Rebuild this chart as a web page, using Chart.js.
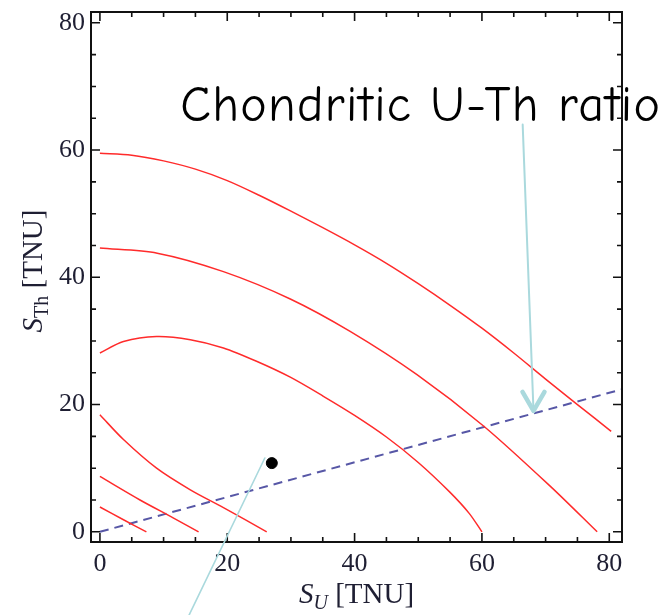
<!DOCTYPE html>
<html>
<head>
<meta charset="utf-8">
<script src="https://cdn.jsdelivr.net/npm/chart.js@4"></script>
<style>
  html, body { margin: 0; padding: 0; background: #fff; }
</style>
</head>
<body>
<canvas id="graph" width="668" height="615"></canvas>
<script>
// tick values (major labelled, minor unlabelled)
const tickValues = [0, 20, 40, 60, 80];
const minorTicks = [0, 5, 10, 15, 20, 25, 30, 35, 40, 45, 50, 55, 60, 65, 70, 75, 80];

// contour curves (S_U, S_Th in TNU)
const c1X = [0, 5, 10, 15, 20, 25, 30, 35, 40, 45, 50, 55, 60, 65, 70, 75, 80.3];
const c1Y = [59.5, 59.2, 58.3, 57.0, 55.2, 52.9, 50.4, 47.8, 45.1, 42.2, 39.0, 35.6, 32.0, 28.1, 24.0, 20.0, 15.8];
const c2X = [0, 9, 19.4, 29.9, 39.3, 49.8, 60.3, 70.8, 78.1];
const c2Y = [44.6, 43.8, 40.9, 36.6, 31.5, 24.7, 16.6, 7.1, 0];
const c3X = [0, 3.7, 8.9, 14.2, 19.4, 24.6, 29.9, 35.1, 40, 45, 50, 55, 58, 60];
const c3Y = [28.1, 29.9, 30.7, 30.2, 28.9, 26.8, 24.3, 21.3, 18.3, 14.9, 10.9, 6.2, 2.9, 0];
const c4X = [0, 3.7, 8.9, 14.2, 19.4, 26.2];
const c4Y = [18.4, 14.5, 10.0, 6.6, 3.8, 0];
const c5X = [0, 6.3, 11.5, 15.5];
const c5Y = [8.7, 5.0, 2.2, 0];
const c6X = [0, 3.7, 7.3];
const c6Y = [3.9, 1.9, 0];

// chondritic U-Th ratio line
const ratioX = [0, 82];
const ratioY = [0, 22.4];

// measured point
const pointX = [27];
const pointY = [10.8];

// annotation anchors (data units)
const labelText = "Chondritic U-Th ratio";
const labelAt = [12.6, 64.5];
const arrow1From = [66.4, 64.0];
const arrow1To = [68.1, 19.0];
const arrow2From = [25.9, 11.6];
const arrow2To = [14.0, -13.1];

const toPts = (xs, ys) => xs.map((v, i) => ({ x: v, y: ys[i] }));

const serif = '"Liberation Serif", "Times New Roman", serif';
const redLine = (xs, ys) => ({
  data: toPts(xs, ys),
  showLine: true,
  borderColor: "#ff2b2b",
  borderWidth: 1.5,
  pointRadius: 0,
  tension: 0.3,
  fill: false,
});

function drawRich(ctx, parts, cx, cy) {
  let w = 0;
  parts.forEach((p) => { ctx.font = p.font; w += ctx.measureText(p.text).width; });
  let xx = cx - w / 2;
  parts.forEach((p) => {
    ctx.font = p.font;
    ctx.fillText(p.text, xx, cy + (p.dy || 0));
    xx += ctx.measureText(p.text).width;
  });
}

function arrowLine(ctx, x, y, from, to, width) {
  ctx.lineWidth = width;
  ctx.beginPath();
  ctx.moveTo(x.getPixelForValue(from[0]), y.getPixelForValue(from[1]));
  ctx.lineTo(x.getPixelForValue(to[0]), y.getPixelForValue(to[1]));
  ctx.stroke();
}

const framePlugin = {
  id: "frame",
  afterDraw(chart) {
    const { ctx, chartArea: a, scales: { x, y } } = chart;
    ctx.save();
    // frame
    ctx.strokeStyle = "#111";
    ctx.lineWidth = 2;
    ctx.strokeRect(a.left, a.top, a.right - a.left, a.bottom - a.top);
    // inward ticks on all four sides
    ctx.lineWidth = 1.6;
    minorTicks.forEach((v) => {
      const len = tickValues.includes(v) ? 9 : 5;
      const px = x.getPixelForValue(v);
      const py = y.getPixelForValue(v);
      ctx.beginPath();
      ctx.moveTo(px, a.bottom); ctx.lineTo(px, a.bottom - len);
      ctx.moveTo(px, a.top); ctx.lineTo(px, a.top + len);
      ctx.moveTo(a.left, py); ctx.lineTo(a.left + len, py);
      ctx.moveTo(a.right, py); ctx.lineTo(a.right - len, py);
      ctx.stroke();
    });

    // axis titles
    ctx.fillStyle = "#1f1f33";
    ctx.textBaseline = "alphabetic";
    const cxMid = (a.left + a.right) / 2;
    drawRich(ctx, [
      { text: "S", font: "italic 29px " + serif },
      { text: "U", font: "italic 20px " + serif, dy: 6 },
      { text: " [TNU]", font: "29px " + serif },
    ], cxMid, a.bottom + 61);

    ctx.save();
    ctx.translate(42, (a.top + a.bottom) / 2 - 6);
    ctx.rotate(-Math.PI / 2);
    drawRich(ctx, [
      { text: "S", font: "italic 29px " + serif },
      { text: "Th", font: "20px " + serif, dy: 6 },
      { text: " [TNU]", font: "29px " + serif },
    ], 0, 0);
    ctx.restore();

    // annotation arrows
    ctx.strokeStyle = "#aad9dd";
    ctx.lineCap = "round";
    arrowLine(ctx, x, y, arrow1From, arrow1To, 2);
    arrowLine(ctx, x, y, arrow2From, arrow2To, 1.6);
    const tx = x.getPixelForValue(arrow1To[0]);
    const ty = y.getPixelForValue(arrow1To[1]);
    ctx.lineWidth = 4.5;
    ctx.lineJoin = "round";
    ctx.beginPath();
    ctx.moveTo(tx - 11, ty - 19);
    ctx.lineTo(tx, ty);
    ctx.lineTo(tx + 11, ty - 19);
    ctx.stroke();

    // annotation text
    ctx.fillStyle = "#000";
    ctx.font = '50px "Comic Sans MS", "Comic Neue", "DejaVu Sans", sans-serif';
    ctx.letterSpacing = "1.3px";
    ctx.fillText(labelText, x.getPixelForValue(labelAt[0]), y.getPixelForValue(labelAt[1]));
    ctx.restore();
  },
};

const ctx = document.getElementById("graph").getContext("2d");
new Chart(ctx, {
  type: "scatter",
  data: {
    datasets: [
      redLine(c1X, c1Y),
      redLine(c2X, c2Y),
      redLine(c3X, c3Y),
      redLine(c4X, c4Y),
      redLine(c5X, c5Y),
      redLine(c6X, c6Y),
      {
        data: toPts(ratioX, ratioY),
        showLine: true,
        borderColor: "#5757a6",
        borderWidth: 2,
        borderDash: [9, 6],
        pointRadius: 0,
        fill: false,
      },
      {
        data: toPts(pointX, pointY),
        pointRadius: 5.5,
        pointBackgroundColor: "#000",
        pointBorderColor: "#000",
        showLine: false,
      },
    ],
  },
  options: {
    responsive: false,
    animation: false,
    layout: { padding: { top: 12, right: 46, left: 0, bottom: 0 } },
    plugins: { legend: { display: false }, tooltip: { enabled: false } },
    scales: {
      x: {
        type: "linear",
        min: -1.4,
        max: 82,
        afterBuildTicks: (s) => { s.ticks = tickValues.map((v) => ({ value: v })); },
        afterFit: (s) => { s.height = 73; s.paddingLeft = 0; s.paddingRight = 0; },
        grid: { display: false, drawTicks: false },
        border: { display: false },
        ticks: { padding: 7, color: "#1f1f33", font: { family: serif, size: 26 } },
      },
      y: {
        type: "linear",
        min: -1.6,
        max: 81.7,
        afterBuildTicks: (s) => { s.ticks = tickValues.map((v) => ({ value: v })); },
        afterFit: (s) => { s.width = 91; s.paddingTop = 0; s.paddingBottom = 0; },
        grid: { display: false, drawTicks: false },
        border: { display: false },
        ticks: { padding: 6, color: "#1f1f33", font: { family: serif, size: 26 } },
      },
    },
  },
  plugins: [framePlugin],
});
</script>
</body>
</html>
